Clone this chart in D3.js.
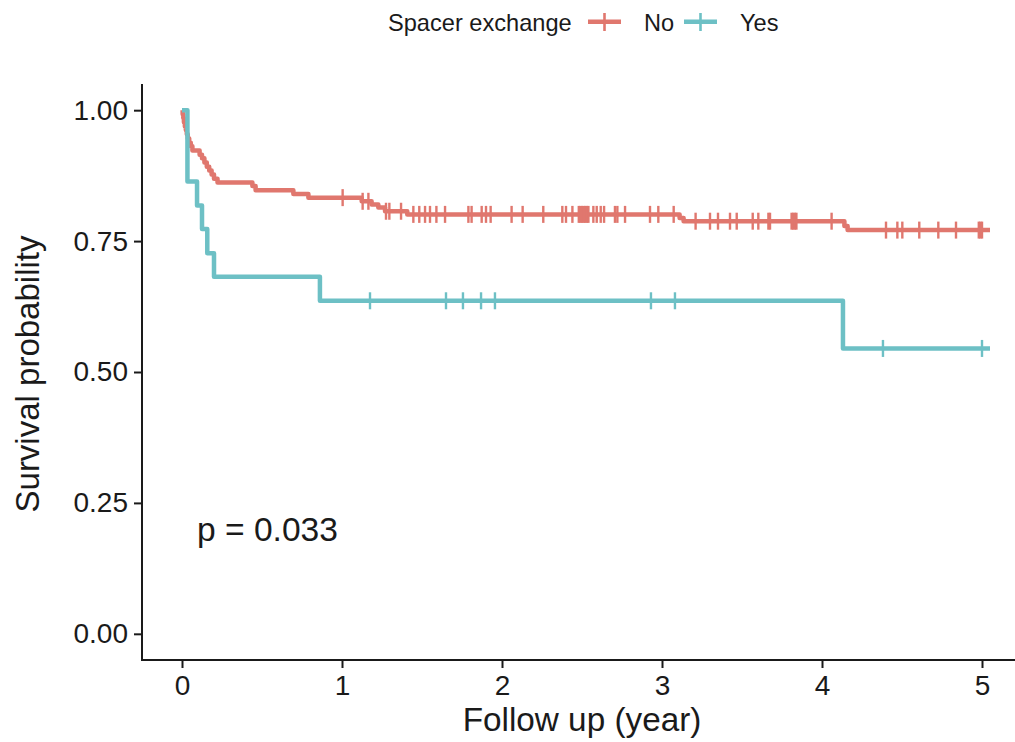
<!DOCTYPE html>
<html>
<head>
<meta charset="utf-8">
<script src="https://cdn.jsdelivr.net/npm/d3@7"></script>
<style>
  html, body { margin: 0; padding: 0; background: #ffffff; }
  svg { display: block; }
  text { font-family: "Liberation Sans", Arial, Helvetica, sans-serif; fill: #1a1a1a; }
</style>
</head>
<body>
<svg id="chart" width="1015" height="742"></svg>
<script>
// ---------------- data ----------------
const groups = ["No", "Yes"];
const legendTitle = "Spacer exchange";
const xTicks = [0, 1, 2, 3, 4, 5];
const yTicks = [0, 0.25, 0.5, 0.75, 1.0];
const yTickLabels = ["0.00", "0.25", "0.50", "0.75", "1.00"];
const xTitle = "Follow up (year)";
const yTitle = "Survival probability";
const pLabel = "p = 0.033";

// Group "No": step times and survival after each step
const noTimes = [0, 0.004, 0.008, 0.012, 0.018, 0.024, 0.03, 0.036, 0.045, 0.055, 0.065,
  0.11, 0.125, 0.14, 0.155, 0.17, 0.185, 0.2, 0.222, 0.44, 0.46, 0.696, 0.79,
  1.123, 1.185, 1.227, 1.269, 1.408, 3.11, 3.135, 4.14, 4.16, 5.05];
const noSurv = [1.0, 0.992, 0.985, 0.977, 0.969, 0.962, 0.954, 0.946, 0.938, 0.931, 0.923,
  0.915, 0.908, 0.900, 0.892, 0.885, 0.877, 0.869, 0.862, 0.855, 0.847, 0.840, 0.833,
  0.826, 0.820, 0.814, 0.807, 0.801, 0.794, 0.788, 0.779, 0.771, 0.771];
const noCensor = [1.004, 1.129, 1.165, 1.275, 1.296, 1.369, 1.446, 1.483, 1.519, 1.55, 1.59,
  1.644, 1.79, 1.81, 1.873, 1.9, 1.929, 2.06, 2.129, 2.258, 2.377, 2.4, 2.44,
  2.48, 2.49, 2.5, 2.51, 2.52, 2.53, 2.54, 2.571, 2.592, 2.617, 2.638, 2.706, 2.721, 2.769,
  2.925, 2.977, 3.073, 3.21, 3.30, 3.35, 3.425, 3.467, 3.567, 3.602, 3.665, 3.675,
  3.81, 3.82, 3.83, 3.84, 4.06, 4.4, 4.471, 4.502, 4.608, 4.727, 4.8375, 4.98, 4.99, 5.0];

// Group "Yes"
const yesTimes = [0, 0.034, 0.094, 0.125, 0.158, 0.2, 0.862, 4.131, 5.05];
const yesSurv = [1.0, 0.864, 0.818, 0.773, 0.727, 0.682, 0.636, 0.545, 0.545];
const yesCensor = [1.175, 1.65, 1.756, 1.869, 1.956, 2.931, 3.081, 4.381, 5.0];

const colors = ["#E0776E", "#6DC0C5"];

// ---------------- layout ----------------
const svg = d3.select("#chart");
const x = d3.scaleLinear().domain([-0.25, 5.25]).range([142, 1022]);
const y = d3.scaleLinear().domain([-0.05, 1.05]).range([660, 84]);

const series = [
  { name: groups[0], times: noTimes, surv: noSurv, censor: noCensor, color: colors[0] },
  { name: groups[1], times: yesTimes, surv: yesSurv, censor: yesCensor, color: colors[1] }
];

function survAt(s, t) {
  let v = s.surv[0];
  for (let i = 0; i < s.times.length; i++) { if (s.times[i] <= t) v = s.surv[i]; }
  return v;
}

// curves
const line = d3.line().x(d => x(d[0])).y(d => y(d[1])).curve(d3.curveStepAfter);
const plot = svg.append("g");
series.forEach(s => {
  const pts = s.times.map((t, i) => [t, s.surv[i]]);
  plot.append("path")
    .attr("d", line(pts))
    .attr("fill", "none")
    .attr("stroke", s.color)
    .attr("stroke-width", 4.5)
    .attr("stroke-linejoin", "round")
    .attr("stroke-linecap", "butt");
});
// censor marks
series.forEach(s => {
  plot.selectAll(null).data(s.censor).enter().append("line")
    .attr("x1", d => x(d)).attr("x2", d => x(d))
    .attr("y1", d => y(survAt(s, d)) - 8.5).attr("y2", d => y(survAt(s, d)) + 8.5)
    .attr("stroke", s.color).attr("stroke-width", 2.4);
});

// axes
const axisColor = "#1a1a1a";
const xAxis = svg.append("g").attr("transform", "translate(0,660)")
  .call(d3.axisBottom(x).tickValues(xTicks).tickFormat(d3.format("d")).tickSizeOuter(0).tickSizeInner(8).tickPadding(7));
const yAxis = svg.append("g").attr("transform", "translate(142,0)")
  .call(d3.axisLeft(y).tickValues(yTicks).tickFormat((d, i) => yTickLabels[i]).tickSizeOuter(0).tickSizeInner(8).tickPadding(6));
[xAxis, yAxis].forEach(a => {
  a.select(".domain").remove();
  a.selectAll(".tick line").attr("stroke", axisColor).attr("stroke-width", 2);
  a.selectAll(".tick text").attr("fill", "#1a1a1a").style("font-size", "28px")
    .style("font-family", '"Liberation Sans", Arial, sans-serif');
});
xAxis.selectAll(".tick text").attr("dy", "0.71em");
svg.append("line").attr("x1", 142).attr("x2", 142).attr("y1", 84).attr("y2", 661)
  .attr("stroke", axisColor).attr("stroke-width", 2);
svg.append("line").attr("x1", 141).attr("x2", 1022).attr("y1", 660).attr("y2", 660)
  .attr("stroke", axisColor).attr("stroke-width", 2);

// titles
svg.append("text").attr("x", 582).attr("y", 731).attr("text-anchor", "middle")
  .style("font-size", "33.3px").text(xTitle);
svg.append("text").attr("transform", "translate(39,374) rotate(-90)").attr("text-anchor", "middle")
  .style("font-size", "33px").text(yTitle);

// p-value
svg.append("text").attr("x", 197).attr("y", 541).style("font-size", "33.6px").text(pLabel);

// legend
const lg = svg.append("g");
lg.append("text").attr("x", 388).attr("y", 30.5).style("font-size", "23.6px").text(legendTitle);
const keyX = [588, 684];
const labX = [644, 740];
series.forEach((s, i) => {
  lg.append("line").attr("x1", keyX[i]).attr("x2", keyX[i] + 33).attr("y1", 21.7).attr("y2", 21.7)
    .attr("stroke", s.color).attr("stroke-width", 4.6);
  lg.append("line").attr("x1", keyX[i] + 16.5).attr("x2", keyX[i] + 16.5).attr("y1", 13).attr("y2", 31)
    .attr("stroke", s.color).attr("stroke-width", 2.6);
  lg.append("text").attr("x", labX[i]).attr("y", 30.5).style("font-size", "23.6px").text(s.name);
});
</script>
</body>
</html>
